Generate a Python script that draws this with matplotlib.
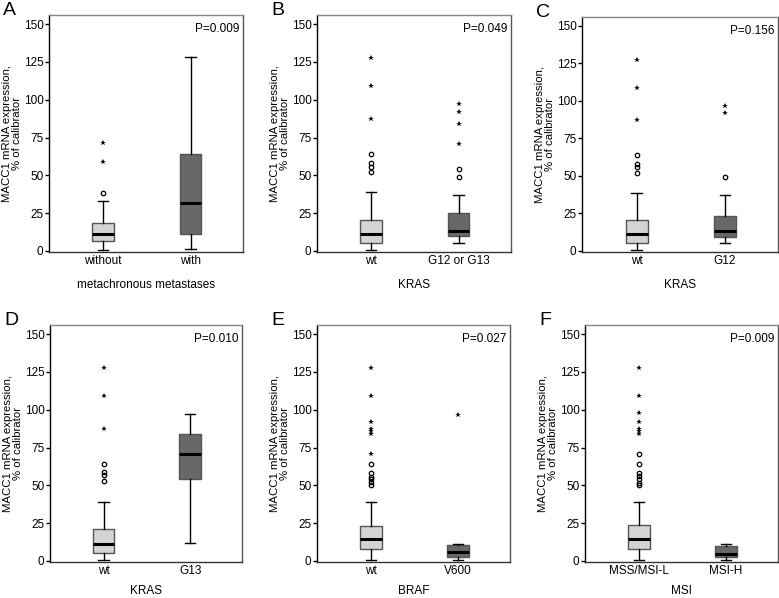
import matplotlib
matplotlib.use("Agg")
import matplotlib.pyplot as plt

plt.rcParams['font.family'] = ['Liberation Sans', 'DejaVu Sans']

W, H = 779, 598

letters = ['A', 'B', 'C', 'D', 'E', 'F']
pvalues = ['P=0.009', 'P=0.049', 'P=0.156', 'P=0.010', 'P=0.027', 'P=0.009']
xtitles = ['metachronous metastases', 'KRAS', 'KRAS', 'KRAS', 'BRAF', 'MSI']
groups = [['without', 'with'], ['wt', 'G12 or G13'], ['wt', 'G12'],
          ['wt', 'G13'], ['wt', 'V600'], ['MSS/MSI-L', 'MSI-H']]

# box stats per group: (low whisker, Q1, median, Q3, high whisker)
stats_a = [(0.8, 6.6, 11.5, 18.4, 32.7), (1.3, 11.5, 31.6, 64.4, 128.3)]
stats_b = [(0.4, 5.1, 11.3, 20.7, 38.8), (5.5, 10.1, 13.5, 25.4, 37.1)]
stats_c = [(0.4, 5.1, 11.3, 20.7, 38.8), (5.3, 9.5, 13.5, 23.4, 37.1)]
stats_d = [(0.7, 5.5, 11.4, 20.9, 39.1), (11.9, 53.9, 70.8, 84.2, 97.0)]
stats_e = [(0.7, 8.1, 14.3, 23.1, 39.1), (0.7, 2.9, 5.9, 10.8, 11.3)]
stats_f = [(0.7, 8.1, 14.3, 23.8, 39.1), (0.7, 2.4, 4.8, 9.9, 11.3)]

# outliers: circles (mild) and stars (extreme)
circ_a = [[38.3], []]
star_a = [[58.8, 71.2], []]
circ_b = [[52.1, 55.8, 58.2, 63.8], [49.2, 54.5]]
star_b = [[87.1, 108.8, 127.6], [70.8, 84.0, 92.0, 97.1]]
circ_c = [[52.1, 55.8, 58.2, 63.8], [49.0]]
star_c = [[87.1, 108.8, 127.6], [91.8, 96.8]]
circ_d = [[52.8, 56.5, 58.7, 64.4], []]
star_d = [[87.3, 108.9, 127.3], []]
circ_e = [[49.9, 52.1, 53.9, 55.7, 57.9, 64.4], []]
star_e = [[70.8, 84.2, 85.8, 87.3, 92.1, 108.9, 127.3], [96.8]]
circ_f = [[49.9, 51.7, 53.9, 56.0, 58.3, 64.4, 70.8], []]
star_f = [[84.0, 85.6, 87.3, 92.1, 97.5, 108.9, 127.3], []]

all_stats = [stats_a, stats_b, stats_c, stats_d, stats_e, stats_f]
all_circ = [circ_a, circ_b, circ_c, circ_d, circ_e, circ_f]
all_star = [star_a, star_b, star_c, star_d, star_e, star_f]

# axes boxes in pixels: left, right, top, bottom
boxes = [(49, 243, 15, 252), (317, 511, 15, 252), (582, 778, 17, 252),
         (50, 242, 325, 562), (317, 510, 325, 562), (585, 778, 325, 562)]

fill_cols = ['#d4d4d4', '#686868']

fig = plt.figure(figsize=(W / 100, H / 100), dpi=100)

for i in range(6):
    l, r, t, b = boxes[i]
    ax = fig.add_axes([l / W, 1 - b / H, (r - l) / W, (b - t) / H])
    bstats = []
    for j, s in enumerate(all_stats[i]):
        bstats.append(dict(whislo=s[0], q1=s[1], med=s[2], q3=s[3], whishi=s[4],
                           fliers=[], label=groups[i][j]))
    art = ax.bxp(bstats, positions=[1, 2], widths=0.25, patch_artist=True,
                 showfliers=False,
                 boxprops=dict(edgecolor='#555555', linewidth=1.0),
                 medianprops=dict(color='black', linewidth=2.2),
                 whiskerprops=dict(color='black', linewidth=1.0),
                 capprops=dict(color='black', linewidth=1.0),
                 capwidths=0.12)
    for patch, c in zip(art['boxes'], fill_cols):
        patch.set_facecolor(c)
    for j in range(2):
        cy = all_circ[i][j]
        sy = all_star[i][j]
        ax.plot([j + 1] * len(cy), cy, 'o', ms=3.2, mfc='none', mec='black', mew=0.9)
        ax.plot([j + 1] * len(sy), sy, '*', ms=4.2, color='black', mew=0)

    ax.set_xlim(0.38, 2.6)
    ax.set_ylim(-0.7, 156)
    ax.set_yticks([0, 25, 50, 75, 100, 125, 150])
    ax.set_xticks([1, 2])
    ax.set_xticklabels(groups[i])
    ax.tick_params(axis='y', length=3, width=1, labelsize=8.5, pad=1)
    ax.tick_params(axis='x', length=0, labelsize=8.5, pad=2)
    ax.spines['left'].set_color('black')
    ax.spines['bottom'].set_color('#333333')
    ax.spines['top'].set_color('#888888')
    ax.spines['right'].set_color('#555555')
    for sp in ax.spines.values():
        sp.set_linewidth(1.0)
    ax.set_ylabel('MACC1 mRNA expression,\n% of calibrator', fontsize=8.2,
                  labelpad=1, linespacing=1.05)
    ax.set_xlabel(xtitles[i], fontsize=8.5, labelpad=9 if i < 3 else 6)
    ax.text(0.98, 0.965, pvalues[i], transform=ax.transAxes, ha='right', va='top',
            fontsize=8.5)
    fig.text((l - 46) / W, 1 - (t - 13) / H, letters[i], fontsize=14,
             ha='left', va='top')

fig.savefig('out.png', dpi=100)
